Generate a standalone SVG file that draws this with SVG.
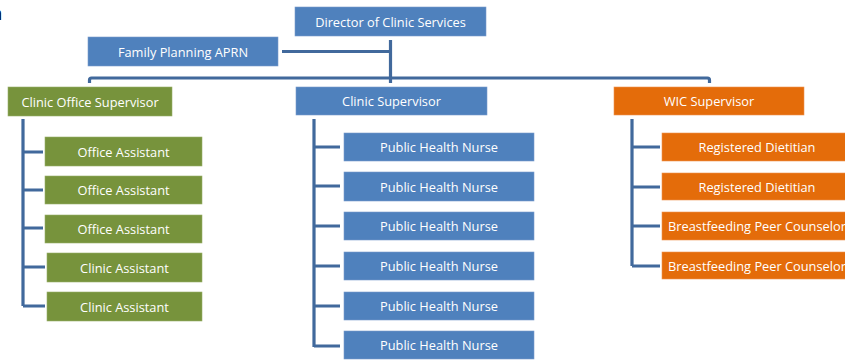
<svg xmlns="http://www.w3.org/2000/svg" width="845" height="361" viewBox="0 0 845 361">
  <style>
    .blue { fill: #4F81BD; stroke: #7A9CCB; stroke-width: 0.6; }
    .green { fill: #77933C; stroke: #98AE6A; stroke-width: 0.6; }
    .orange { fill: #E46C0A; stroke: #EE9550; stroke-width: 0.6; }
    .lbl { font-family: "Open Sans", "Liberation Sans", sans-serif; font-size: 12.8px; fill: #FFFFFF; text-anchor: middle; dominant-baseline: central; }
    .wire { fill: none; stroke: #41699C; stroke-width: 3.2; }
  </style>
  <rect width="845" height="361" fill="#FFFFFF"/>
  <text x="-8" y="20" font-family="Liberation Sans, sans-serif" font-size="18" fill="#000000">n</text>

  <!-- connectors -->
  <g id="connectors">
    <path class="wire" d="M282,51.5 H390.5"/>
    <path class="wire" d="M390.5,40 V83"/>
    <path class="wire" d="M89.5,83 V80 Q89.5,78 91.5,78 H707.5 Q709.5,78 709.5,80 V83"/>
    <!-- clinic office branch -->
    <path class="wire" d="M23,119 V306 M23,152 H43 M23,190 H43 M23,228 H43 M23,267 H45 M23,306 H45"/>
    <!-- clinic branch -->
    <path class="wire" d="M314,119 V347 M314,147 H340 M314,186 H340 M314,226 H340 M314,266 H340 M314,306 H340 M314,346 H340"/>
    <!-- WIC branch -->
    <path class="wire" d="M632,119 V266 M632,147 H660 M632,187 H660 M632,226 H660 M632,266 H660"/>
  </g>

  <g id="director"><rect class="blue" x="295" y="7" width="191" height="29"/><text class="lbl" x="390.5" y="21.5">Director of Clinic Services</text></g>
  <g id="aprn"><rect class="blue" x="88" y="37" width="190" height="29"/><text class="lbl" x="183" y="51.5">Family Planning APRN</text></g>

  <g id="clinic-office-supervisor"><rect class="green" x="8" y="87" width="164" height="29"/><text class="lbl" x="90" y="101.5">Clinic Office Supervisor</text></g>
  <g id="clinic-supervisor"><rect class="blue" x="296" y="87" width="191" height="28"/><text class="lbl" x="391.5" y="101">Clinic Supervisor</text></g>
  <g id="wic-supervisor"><rect class="orange" x="614" y="87" width="190" height="28"/><text class="lbl" x="709" y="101">WIC Supervisor</text></g>

  <g id="office-assistant-1"><rect class="green" x="45" y="137" width="157" height="29"/><text class="lbl" x="123.5" y="151.5">Office Assistant</text></g>
  <g id="office-assistant-2"><rect class="green" x="45" y="176" width="157" height="28"/><text class="lbl" x="123.5" y="190">Office Assistant</text></g>
  <g id="office-assistant-3"><rect class="green" x="45" y="215" width="157" height="28"/><text class="lbl" x="123.5" y="229">Office Assistant</text></g>
  <g id="clinic-assistant-1"><rect class="green" x="47" y="253" width="155" height="29"/><text class="lbl" x="124.5" y="267.5">Clinic Assistant</text></g>
  <g id="clinic-assistant-2"><rect class="green" x="47" y="292" width="155" height="29"/><text class="lbl" x="124.5" y="306.5">Clinic Assistant</text></g>

  <g id="phn-1"><rect class="blue" x="344" y="133" width="190" height="28"/><text class="lbl" x="439" y="147">Public Health Nurse</text></g>
  <g id="phn-2"><rect class="blue" x="344" y="172" width="190" height="29"/><text class="lbl" x="439" y="186.5">Public Health Nurse</text></g>
  <g id="phn-3"><rect class="blue" x="344" y="212" width="190" height="28"/><text class="lbl" x="439" y="226">Public Health Nurse</text></g>
  <g id="phn-4"><rect class="blue" x="344" y="252" width="190" height="28"/><text class="lbl" x="439" y="266">Public Health Nurse</text></g>
  <g id="phn-5"><rect class="blue" x="344" y="292" width="190" height="28"/><text class="lbl" x="439" y="306">Public Health Nurse</text></g>
  <g id="phn-6"><rect class="blue" x="344" y="331" width="190" height="28"/><text class="lbl" x="439" y="345">Public Health Nurse</text></g>

  <g id="dietitian-1"><rect class="orange" x="662" y="133" width="190" height="28"/><text class="lbl" x="757" y="147">Registered Dietitian</text></g>
  <g id="dietitian-2"><rect class="orange" x="662" y="173" width="190" height="27"/><text class="lbl" x="757" y="186.5">Registered Dietitian</text></g>
  <g id="peer-counselor-1"><rect class="orange" x="662" y="212" width="190" height="28"/><text class="lbl" x="757" y="226">Breastfeeding Peer Counselor</text></g>
  <g id="peer-counselor-2"><rect class="orange" x="662" y="252" width="190" height="27"/><text class="lbl" x="757" y="265.5">Breastfeeding Peer Counselor</text></g>
</svg>
